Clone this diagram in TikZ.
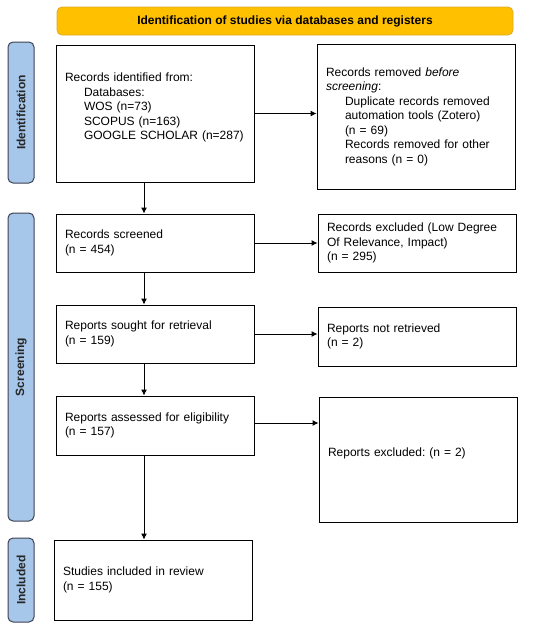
\documentclass[tikz,border=0pt]{standalone}
\usepackage{fontspec}
\setmainfont{Liberation Sans}
\usepackage{tikz}
\usetikzlibrary{arrows.meta}
\frenchspacing
\definecolor{bannerfill}{RGB}{255,192,0}
\definecolor{banneredge}{RGB}{222,170,40}
\definecolor{phasefill}{RGB}{166,198,234}
\definecolor{phaseedge}{RGB}{62,66,82}
\newcommand{\subind}{\hspace*{19pt}}
\tikzset{
  recbox/.style={rectangle,draw=black,line width=0.9pt,minimum width=198pt,
    text width=180pt,inner xsep=9pt,inner ysep=2pt,align=left,fill=white,
    font=\fontsize{12}{14.5}\selectfont},
  phase/.style={rectangle,rounded corners=5pt,draw=phaseedge,line width=1pt,
    fill=phasefill,rotate=90,minimum height=26pt,inner sep=0pt,text=black!85,
    font=\fontsize{12}{14}\selectfont\bfseries},
  banner/.style={rectangle,rounded corners=5pt,draw=banneredge,line width=0.8pt,
    fill=bannerfill,minimum width=456pt,minimum height=28pt,
    font=\fontsize{12}{14}\selectfont\bfseries},
  flow/.style={-{Latex[length=6pt,width=6pt]},line width=0.9pt}
}

\begin{document}
\begin{tikzpicture}[x=1pt,y=-1pt]
  \useasboundingbox (0,0) rectangle (550,629);

  \node[banner] (head) at (285,21) {Identification of studies via databases and registers};

  \node[phase,minimum width=141pt] (ph1) at (21,112.5) {Identification};
  \node[phase,minimum width=308pt] (ph2) at (21,367) {Screening};
  \node[phase,minimum width=84pt]  (ph3) at (21,580) {Included};

  \node[recbox,minimum height=137pt] (id) at (155,113.5)
    {Records identified from:\\ \subind Databases:\\ \subind WOS (n=73)\\
     \subind SCOPUS (n=163)\\ \subind GOOGLE SCHOLAR (n=287)\\ \mbox{}};
  \node[recbox,minimum height=145pt] (rem) at (416,116.5)
    {Records removed \emph{before}\\ \emph{screening}:\\
     \subind Duplicate records removed\\ \subind automation tools (Zotero)\\
     \subind (n = 69)\\ \subind Records removed for other\\ \subind reasons (n = 0)};

  \node[recbox,minimum height=58pt] (scr) at (155,243) {Records screened\\ (n = 454)};
  \node[recbox,minimum height=58pt] (exc) at (417,243)
    {Records excluded (Low Degree\\ Of Relevance, Impact)\\ (n = 295)};

  \node[recbox,minimum height=58pt] (sought) at (155,334) {Reports sought for retrieval\\ (n = 159)};
  \node[recbox,minimum height=59pt] (notret) at (417,336.5) {Reports not retrieved\\ (n = 2)};

  \node[recbox,minimum height=59pt] (assess) at (155,425.5) {Reports assessed for eligibility\\ (n = 157)};
  \node[recbox,minimum height=125pt] (rexc) at (418,459.5) {Reports excluded: (n = 2)\\ \mbox{}};

  \node[recbox,minimum height=80pt] (incl) at (153,580) {Studies included in review\\ (n = 155)};

  \draw[flow] (id.east) -- (id.east -| rem.west);
  \draw[flow] (scr.east) -- (scr.east -| exc.west);
  \draw[flow] (sought.east) -- (sought.east -| notret.west);
  \draw[flow] ([yshift=2.5pt]assess.east) -- ([yshift=2.5pt]assess.east -| rexc.west);

  \draw[flow] ([xshift=-11pt]id.south) -- ([xshift=-11pt]id.south |- scr.north);
  \draw[flow] ([xshift=-11pt]scr.south) -- ([xshift=-11pt]scr.south |- sought.north);
  \draw[flow] ([xshift=-11pt]sought.south) -- ([xshift=-11pt]sought.south |- assess.north);
  \draw[flow] ([xshift=-11pt]assess.south) -- ([xshift=-11pt]assess.south |- incl.north);
\end{tikzpicture}
\end{document}
